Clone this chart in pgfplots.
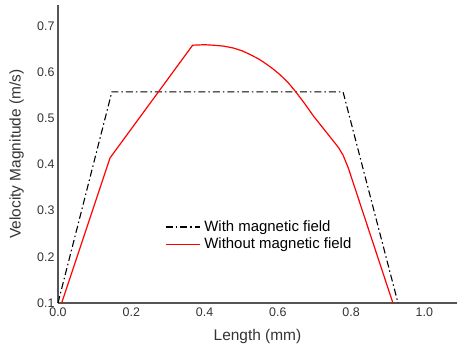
\documentclass[border=0pt]{standalone}
\usepackage{pgfplots}
\pgfplotsset{compat=1.18}
\usepackage{fontspec}
\setmainfont{Liberation Sans}
\definecolor{axgray}{HTML}{555555}
\definecolor{txtgray}{HTML}{333333}
\begin{document}
\begin{tikzpicture}
\useasboundingbox (-58bp,-43bp) rectangle (399bp,303bp);
\begin{axis}[
  scale only axis,
  width=399bp, height=298bp,
  xmin=0, xmax=1.089, ymin=0.1, ymax=0.745,
  axis lines=left,
  axis line style={-, axgray, line width=1.1bp},
  xtick={0,0.2,0.4,0.6,0.8,1.0},
  ytick={0.1,0.2,0.3,0.4,0.5,0.6,0.7},
  major tick length=0pt,
  /pgf/number format/assume math mode=true,
  xticklabel style={/pgf/number format/.cd,fixed,fixed zerofill,precision=1},
  yticklabel style={/pgf/number format/.cd,fixed,fixed zerofill,precision=1},
  tick label style={font=\fontsize{12.5}{14}\selectfont, text=txtgray},
  xticklabel shift=1bp,
  yticklabel shift=0bp,
  label style={font=\fontsize{15.5}{17}\selectfont, text=txtgray},
  xlabel={Length (mm)},
  ylabel={Velocity Magnitude (m/s)},
  xlabel style={at={(axis description cs:0.5,-0.112)}, anchor=center},
  ylabel style={at={(axis description cs:-0.077,0.5)}, anchor=south},
  legend style={draw=none, fill=none, at={(axis description cs:0.268,0.283)}, anchor=north west,
     font=\fontsize{15}{17}\selectfont, text=black, row sep=1bp, inner sep=0pt,
     nodes={inner xsep=4bp}},
  legend cell align=left,
  legend image code/.code={\draw[#1] (0bp,0bp) -- (34bp,0bp);},
  clip=false,
]
\addplot[black, line width=1.1bp, dash pattern=on 7bp off 3bp on 1.5bp off 3bp] coordinates {
  (0.0,0.1) (0.147,0.557) (0.778,0.557) (0.928,0.1)
};
\addlegendentry{With magnetic field}
\addplot[red, line width=1.2bp] coordinates {
  (0.010,0.1) (0.142,0.414) (0.3675,0.658) (0.40,0.659) (0.424,0.658) (0.452,0.656) (0.478,0.652) (0.502,0.646) (0.524,0.638) (0.548,0.628) (0.569,0.617) (0.588,0.606) (0.606,0.594) (0.627,0.578) (0.647,0.559) (0.672,0.533) (0.697,0.505) (0.724,0.478) (0.751,0.451) (0.766,0.436) (0.778,0.420) (0.792,0.393) (0.914,0.1)
};
\addlegendentry{Without magnetic field}
\end{axis}
\end{tikzpicture}
\end{document}
